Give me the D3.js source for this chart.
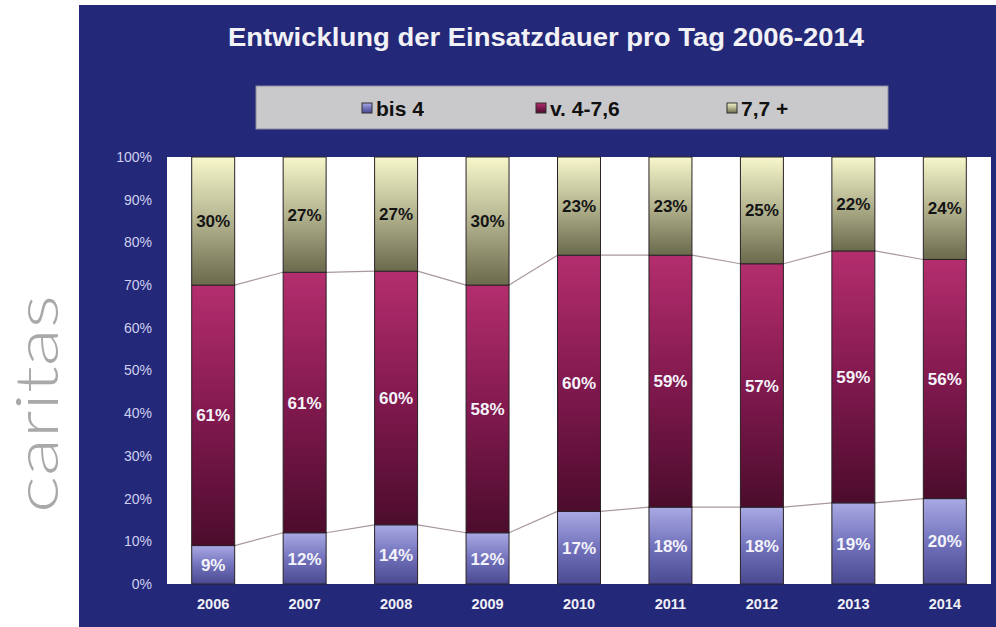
<!DOCTYPE html>
<html>
<head>
<meta charset="utf-8">
<script src="https://cdn.jsdelivr.net/npm/d3@7"></script>
<style>
  html, body { margin: 0; padding: 0; background: #ffffff; }
  svg { display: block; }
</style>
</head>
<body>
<svg id="chart" width="996" height="627"></svg>
<script>
// Anteile der Einsatzdauer pro Tag (Stunden), 2006-2014
const years = ["2006", "2007", "2008", "2009", "2010", "2011", "2012", "2013", "2014"];
const seriesNames = ["bis 4", "v. 4-7,6", "7,7 +"];
const bis4 = [9, 12, 14, 12, 17, 18, 18, 19, 20];
const v4bis76 = [61, 61, 60, 58, 60, 59, 57, 59, 56];
const ab77 = [30, 27, 27, 30, 23, 23, 25, 22, 24];
const yTicks = [0, 0.1, 0.2, 0.3, 0.4, 0.5, 0.6, 0.7, 0.8, 0.9, 1.0];
const titleText = "Entwicklung der Einsatzdauer pro Tag 2006-2014";
const logoText = "caritas";

const rows = years.map((y, i) => ({ year: y, "bis 4": bis4[i], "v. 4-7,6": v4bis76[i], "7,7 +": ab77[i] }));

const svg = d3.select("#chart");
const W = 996, H = 627;
const plot = { left: 167, right: 991, top: 157, bottom: 584 };

// Gradients: each segment lighter at its top, darker at its bottom
const gradStops = {
  "bis 4":    ["#a9a9e4", "#7373bd", "#4a4a92"],
  "v. 4-7,6": ["#b42e6e", "#82194f", "#4c0c2c"],
  "7,7 +":    ["#f7f7cb", "#b3b38f", "#6a6a4c"]
};
const defs = svg.append("defs");
seriesNames.forEach((s, k) => {
  const g = defs.append("linearGradient")
    .attr("id", "grad" + k).attr("x1", 0).attr("y1", 0).attr("x2", 0).attr("y2", 1);
  g.append("stop").attr("offset", "0%").attr("stop-color", gradStops[s][0]);
  g.append("stop").attr("offset", "50%").attr("stop-color", gradStops[s][1]);
  g.append("stop").attr("offset", "100%").attr("stop-color", gradStops[s][2]);
});

// Logo text at the left margin, reading bottom to top
svg.append("text")
  .attr("transform", "translate(58,513) rotate(-90)")
  .attr("text-anchor", "start")
  .attr("font-family", "Lato, 'Open Sans', 'Liberation Sans', sans-serif")
  .attr("font-weight", 300)
  .attr("font-size", 60)
  .attr("fill", "#a9a9ab")
  .attr("textLength", 218)
  .attr("lengthAdjust", "spacingAndGlyphs")
  .text(logoText);

// Dark chart panel
svg.append("rect")
  .attr("x", 79).attr("y", 5).attr("width", W - 79).attr("height", H - 5)
  .attr("fill", "#242878");

// Title
svg.append("text")
  .attr("x", 546).attr("y", 46)
  .attr("text-anchor", "middle")
  .attr("font-family", "'Liberation Sans', Arial, sans-serif")
  .attr("font-weight", "bold")
  .attr("font-size", 25)
  .attr("fill", "#f2f2f6")
  .attr("textLength", 636)
  .attr("lengthAdjust", "spacingAndGlyphs")
  .text(titleText);

// Legend box
const legend = svg.append("g");
legend.append("rect")
  .attr("x", 256).attr("y", 86).attr("width", 632).attr("height", 43)
  .attr("fill", "#c9c9cb").attr("stroke", "#8c8ca0").attr("stroke-width", 1);
const legendX = [362, 536, 727];
seriesNames.forEach((s, k) => {
  const gItem = legend.append("g").attr("transform", `translate(${legendX[k]},108)`);
  gItem.append("rect")
    .attr("x", 0).attr("y", -5).attr("width", 10).attr("height", 10)
    .attr("fill", `url(#grad${k})`).attr("stroke", "#303030").attr("stroke-width", 1);
  gItem.append("text")
    .attr("x", 14).attr("y", 7.5)
    .attr("font-family", "'Liberation Sans', Arial, sans-serif")
    .attr("font-weight", "bold")
    .attr("font-size", 21)
    .attr("fill", "#111111")
    .text(s);
});

// Plot area
svg.append("rect")
  .attr("x", plot.left).attr("y", plot.top)
  .attr("width", plot.right - plot.left).attr("height", plot.bottom - plot.top)
  .attr("fill", "#ffffff");

const x = d3.scaleBand().domain(years).range([plot.left, plot.right])
  .paddingInner(0.53).paddingOuter(0.27);
const y = d3.scaleLinear().domain([0, 1]).range([plot.bottom, plot.top]);

const stack = d3.stack().keys(seriesNames).offset(d3.stackOffsetExpand);
const layers = stack(rows);

// Series lines joining the segment tops of neighbouring bars
const lineG = svg.append("g");
layers.slice(0, 2).forEach(layer => {
  for (let i = 0; i < layer.length - 1; i++) {
    lineG.append("line")
      .attr("x1", x(years[i]) + x.bandwidth()).attr("y1", y(layer[i][1]))
      .attr("x2", x(years[i + 1])).attr("y2", y(layer[i + 1][1]))
      .attr("stroke", "#a8989c").attr("stroke-width", 1.2);
  }
});

// Stacked bars
const barG = svg.append("g");
layers.forEach((layer, k) => {
  barG.selectAll(null).data(layer).enter().append("rect")
    .attr("x", d => x(d.data.year))
    .attr("y", d => y(d[1]))
    .attr("width", x.bandwidth())
    .attr("height", d => y(d[0]) - y(d[1]))
    .attr("fill", `url(#grad${k})`)
    .attr("stroke", "#2a2226").attr("stroke-width", 1);
});

// Value labels
const labelColors = ["#f4f4fa", "#f4f4fa", "#141414"];
layers.forEach((layer, k) => {
  const key = seriesNames[k];
  svg.append("g").selectAll(null).data(layer).enter().append("text")
    .attr("x", d => x(d.data.year) + x.bandwidth() / 2)
    .attr("y", d => y((d[0] + d[1]) / 2))
    .attr("dy", "0.36em")
    .attr("text-anchor", "middle")
    .attr("font-family", "'Liberation Sans', Arial, sans-serif")
    .attr("font-weight", "bold")
    .attr("font-size", 17)
    .attr("fill", labelColors[k])
    .text(d => d.data[key] + "%");
});

// Y axis
const yAxis = d3.axisLeft(y).tickValues(yTicks).tickFormat(d3.format(".0%")).tickSize(0).tickPadding(0);
const yG = svg.append("g").attr("transform", `translate(152,0)`).call(yAxis);
yG.select(".domain").remove();
yG.selectAll("text")
  .attr("font-family", "'Liberation Sans', Arial, sans-serif")
  .attr("font-size", 14)
  .attr("fill", "#cfd0f0");

// X axis
const xAxis = d3.axisBottom(x).tickSize(0).tickPadding(0);
const xG = svg.append("g").attr("transform", `translate(0,${plot.bottom + 15})`).call(xAxis);
xG.select(".domain").remove();
xG.selectAll("text")
  .attr("font-family", "'Liberation Sans', Arial, sans-serif")
  .attr("font-weight", "bold")
  .attr("font-size", 14.5)
  .attr("fill", "#f0f0f6");
</script>
</body>
</html>
